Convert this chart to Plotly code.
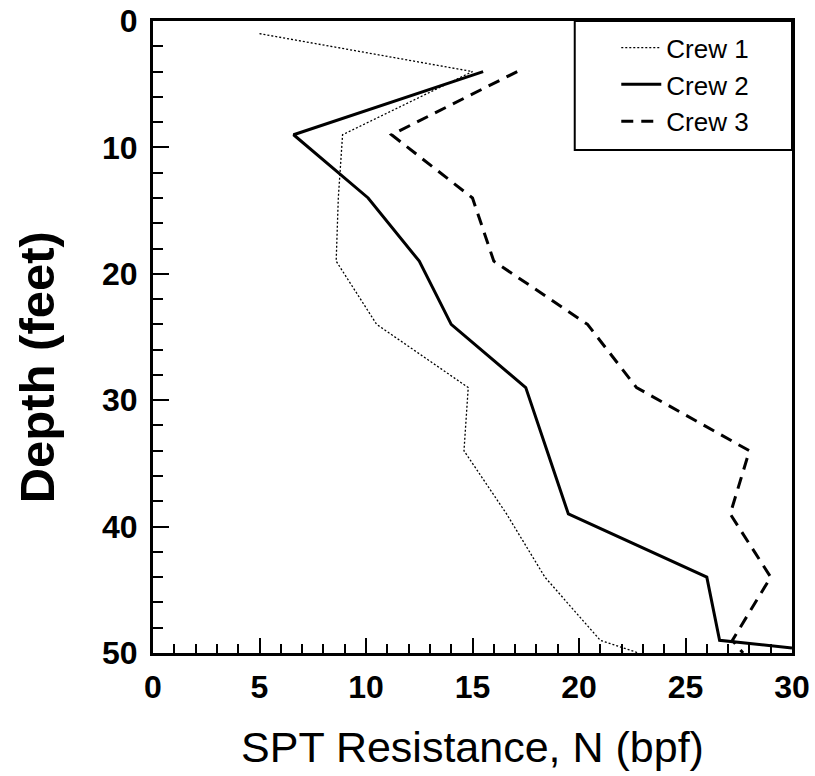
import plotly.graph_objects as go

crew1_depth = [1, 4, 9, 14, 19, 24, 29, 34, 39, 44, 49, 50]
crew1_n = [5.0, 15.0, 8.9, 8.7, 8.6, 10.5, 14.8, 14.6, 16.6, 18.4, 21.0, 22.8]

crew2_depth = [4, 9, 14, 19, 24, 29, 34, 39, 44, 49, 49.6]
crew2_n = [15.5, 6.6, 10.1, 12.5, 14.0, 17.5, 18.5, 19.5, 26.0, 26.6, 30.0]

crew3_depth = [4, 9, 14, 19, 24, 29, 34, 39, 44, 49, 50]
crew3_n = [17.1, 11.2, 15.0, 16.0, 20.4, 22.7, 28.0, 27.1, 29.0, 27.2, 27.7]

FONT = "Liberation Sans, Arial, Helvetica"

fig = go.Figure()
fig.add_trace(go.Scatter(x=crew1_n, y=crew1_depth, mode="lines", name="Crew 1",
                         legendgroup="a",
                         line=dict(color="black", width=1.3, dash="2px,2px")))
fig.add_trace(go.Scatter(x=crew2_n, y=crew2_depth, mode="lines", name="Crew 2",
                         legendgroup="b",
                         line=dict(color="black", width=3)))
fig.add_trace(go.Scatter(x=crew3_n, y=crew3_depth, mode="lines", name="Crew 3",
                         legendgroup="c",
                         line=dict(color="black", width=3, dash="12px,8px")))

# legend frame (decoration, paper coordinates)
fig.add_shape(type="rect", xref="paper", yref="paper",
              x0=0.66, x1=1.0, y0=0.796, y1=1.0,
              line=dict(color="black", width=2), fillcolor="white", layer="below")

# y-axis title placed as annotation to match reference position
fig.add_annotation(text="<b>Depth (feet)</b>", textangle=-90, showarrow=False,
                   xref="paper", yref="paper", x=-0.181, y=0.4525,
                   xanchor="center", yanchor="middle",
                   font=dict(size=49, family=FONT, color="black"))

fig.update_layout(
    width=815, height=776,
    margin=dict(l=153, r=23, t=21, b=123, autoexpand=False),
    paper_bgcolor="white", plot_bgcolor="white",
    font=dict(family=FONT, color="black"),
    showlegend=True,
    legend=dict(x=0.725, y=0.995, xanchor="left", yanchor="top",
                borderwidth=0, bgcolor="rgba(0,0,0,0)",
                font=dict(size=26, family=FONT),
                tracegroupgap=0, itemwidth=40),
    xaxis=dict(range=[0, 30], dtick=5, tick0=0, ticks="inside", ticklen=15,
               tickwidth=2, tickcolor="black", automargin=False,
               minor=dict(dtick=1, ticks="inside", ticklen=9, tickwidth=2, tickcolor="black"),
               showline=True, linewidth=3, linecolor="black", mirror=True,
               showgrid=False, zeroline=False, ticklabelstandoff=4,
               tickfont=dict(size=32, family=FONT, weight="bold"),
               title=dict(text="SPT Resistance, N (bpf)", font=dict(size=43, family=FONT), standoff=28)),
    yaxis=dict(range=[50, 0], dtick=10, tick0=0, ticks="inside", ticklen=16,
               tickwidth=2, tickcolor="black", automargin=False,
               minor=dict(dtick=2, ticks="inside", ticklen=10, tickwidth=2, tickcolor="black"),
               showline=True, linewidth=3, linecolor="black", mirror=True,
               showgrid=False, zeroline=False, ticklabelstandoff=6,
               ticklabeloverflow="allow",
               tickfont=dict(size=32, family=FONT, weight="bold")),
)

fig.write_html("out.html", config={"displayModeBar": False},
               post_script="document.body.style.margin='0';")
